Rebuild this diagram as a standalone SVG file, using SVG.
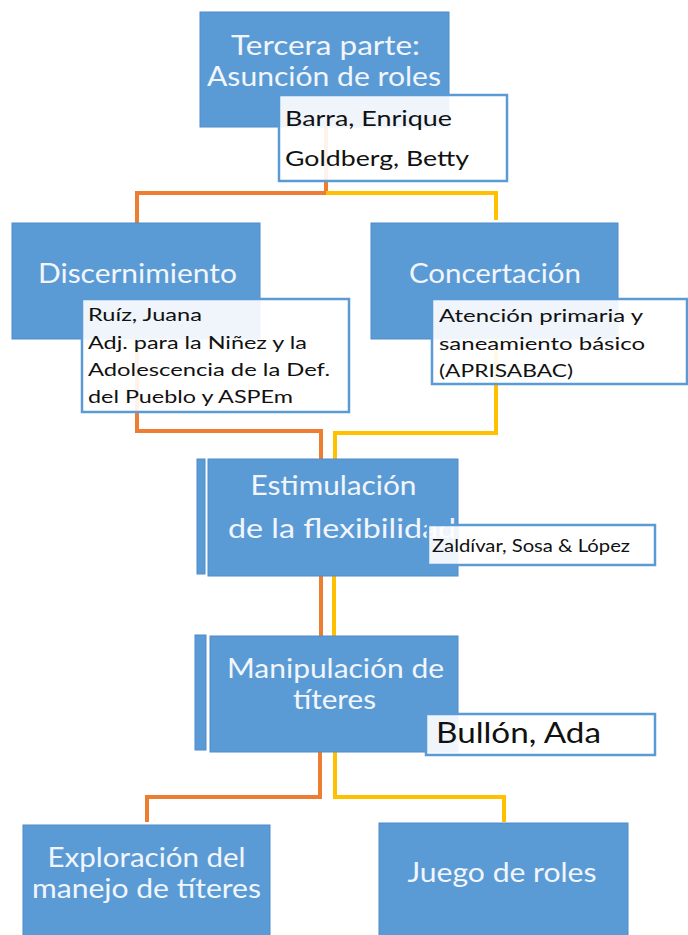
<svg xmlns="http://www.w3.org/2000/svg" width="688" height="935" viewBox="0 0 688 935">
<style>
.box{fill:#5B9BD5;stroke:#4F8CC9;stroke-width:1}
.bar{fill:#5B9BD5;stroke:#4F8CC9;stroke-width:1}
.note{fill:#FFFFFF;fill-opacity:0.9;stroke:#5B9BD5;stroke-width:2.5}
.t{font-family:Lato,"Open Sans",sans-serif;fill:#F2F6FC;text-anchor:middle}
.s{text-anchor:start}
.n{font-family:Lato,"Open Sans",sans-serif;fill:#111111}
.or{fill:none;stroke:#ED7D31;stroke-width:4}
.ye{fill:none;stroke:#FFC000;stroke-width:4}
</style>
<rect width="688" height="935" fill="#FFFFFF"/>
<g id="connectors">
<polyline class="or" points="326,127 326,193 137,193 137,223"/>
<polyline class="ye" points="326,193 496,193 496,220"/>
<polyline class="or" points="137,339 137,431 321,431 321,459"/>
<polyline class="ye" points="496,339 496,433 335,433 335,459"/>
<line class="or" x1="321" y1="576" x2="321" y2="636"/>
<line class="ye" x1="334" y1="576" x2="334" y2="636"/>
<polyline class="or" points="320,752 320,797 147,797 147,822"/>
<polyline class="ye" points="335,752 335,797 504,797 504,822"/>
</g>
<g id="node-tercera">
<rect class="box" x="200" y="12" width="249" height="115"/>
<text class="t" x="325.5" y="55" font-size="27" textLength="189" lengthAdjust="spacingAndGlyphs">Tercera parte:</text>
<text class="t" x="324" y="86" font-size="27" textLength="234" lengthAdjust="spacingAndGlyphs">Asunción de roles</text>
</g>
<g id="node-discernimiento">
<rect class="box" x="12" y="223" width="248" height="116"/>
<text class="t" x="137.5" y="283" font-size="26" textLength="199" lengthAdjust="spacingAndGlyphs">Discernimiento</text>
</g>
<g id="node-concertacion">
<rect class="box" x="371" y="223" width="247" height="116"/>
<text class="t" x="495" y="283" font-size="26" textLength="172" lengthAdjust="spacingAndGlyphs">Concertación</text>
</g>
<g id="node-estimulacion">
<rect class="bar" x="197" y="459" width="8" height="115"/>
<rect class="box" x="208" y="459" width="250" height="117"/>
<text class="t" x="333.5" y="495" font-size="26" textLength="166" lengthAdjust="spacingAndGlyphs">Estimulación</text>
<text class="t s" x="228" y="538" font-size="26" textLength="228" lengthAdjust="spacingAndGlyphs">de la flexibilidad</text>
</g>
<g id="node-manipulacion">
<rect class="bar" x="195" y="635" width="11" height="115"/>
<rect class="box" x="210" y="636" width="248" height="116"/>
<text class="t" x="335.5" y="678" font-size="26" textLength="217" lengthAdjust="spacingAndGlyphs">Manipulación de</text>
<text class="t" x="334.5" y="709" font-size="26" textLength="83" lengthAdjust="spacingAndGlyphs">títeres</text>
</g>
<g id="node-exploracion">
<rect class="box" x="23" y="825" width="247" height="115"/>
<text class="t" x="146.5" y="867" font-size="26" textLength="198" lengthAdjust="spacingAndGlyphs">Exploración del</text>
<text class="t" x="146.5" y="898" font-size="26" textLength="229" lengthAdjust="spacingAndGlyphs">manejo de títeres</text>
</g>
<g id="node-juego">
<rect class="box" x="379" y="823" width="249" height="117"/>
<text class="t" x="502" y="882" font-size="26" textLength="189" lengthAdjust="spacingAndGlyphs">Juego de roles</text>
</g>
<g id="note-barra">
<rect class="note" x="279" y="95" width="228" height="86"/>
<text class="n" x="285" y="126" font-size="22" textLength="167" lengthAdjust="spacingAndGlyphs">Barra, Enrique</text>
<text class="n" x="285" y="166" font-size="22" textLength="184" lengthAdjust="spacingAndGlyphs">Goldberg, Betty</text>
</g>
<g id="note-ruiz">
<rect class="note" x="82" y="299" width="267" height="113"/>
<text class="n" x="88" y="321" font-size="18" textLength="114" lengthAdjust="spacingAndGlyphs">Ruíz, Juana</text>
<text class="n" x="88" y="349" font-size="18" textLength="219" lengthAdjust="spacingAndGlyphs">Adj. para la Niñez y la</text>
<text class="n" x="88" y="376" font-size="18" textLength="242" lengthAdjust="spacingAndGlyphs">Adolescencia de la Def.</text>
<text class="n" x="88" y="403" font-size="18" textLength="205" lengthAdjust="spacingAndGlyphs">del Pueblo y ASPEm</text>
</g>
<g id="note-aprisabac">
<rect class="note" x="432" y="299" width="255" height="85"/>
<text class="n" x="439" y="322" font-size="18" textLength="204" lengthAdjust="spacingAndGlyphs">Atención primaria y</text>
<text class="n" x="439" y="350" font-size="18" textLength="206" lengthAdjust="spacingAndGlyphs">saneamiento básico</text>
<text class="n" x="439" y="377" font-size="18" textLength="134" lengthAdjust="spacingAndGlyphs">(APRISABAC)</text>
</g>
<g id="note-zaldivar">
<rect class="note" x="428" y="525" width="227" height="40"/>
<text class="n" x="432" y="552" font-size="17" textLength="198" lengthAdjust="spacingAndGlyphs">Zaldívar, Sosa &amp; López</text>
</g>
<g id="note-bullon">
<rect class="note" x="426" y="714" width="229" height="41"/>
<text class="n" x="436" y="743" font-size="29" textLength="165" lengthAdjust="spacingAndGlyphs">Bullón, Ada</text>
</g>
</svg>
